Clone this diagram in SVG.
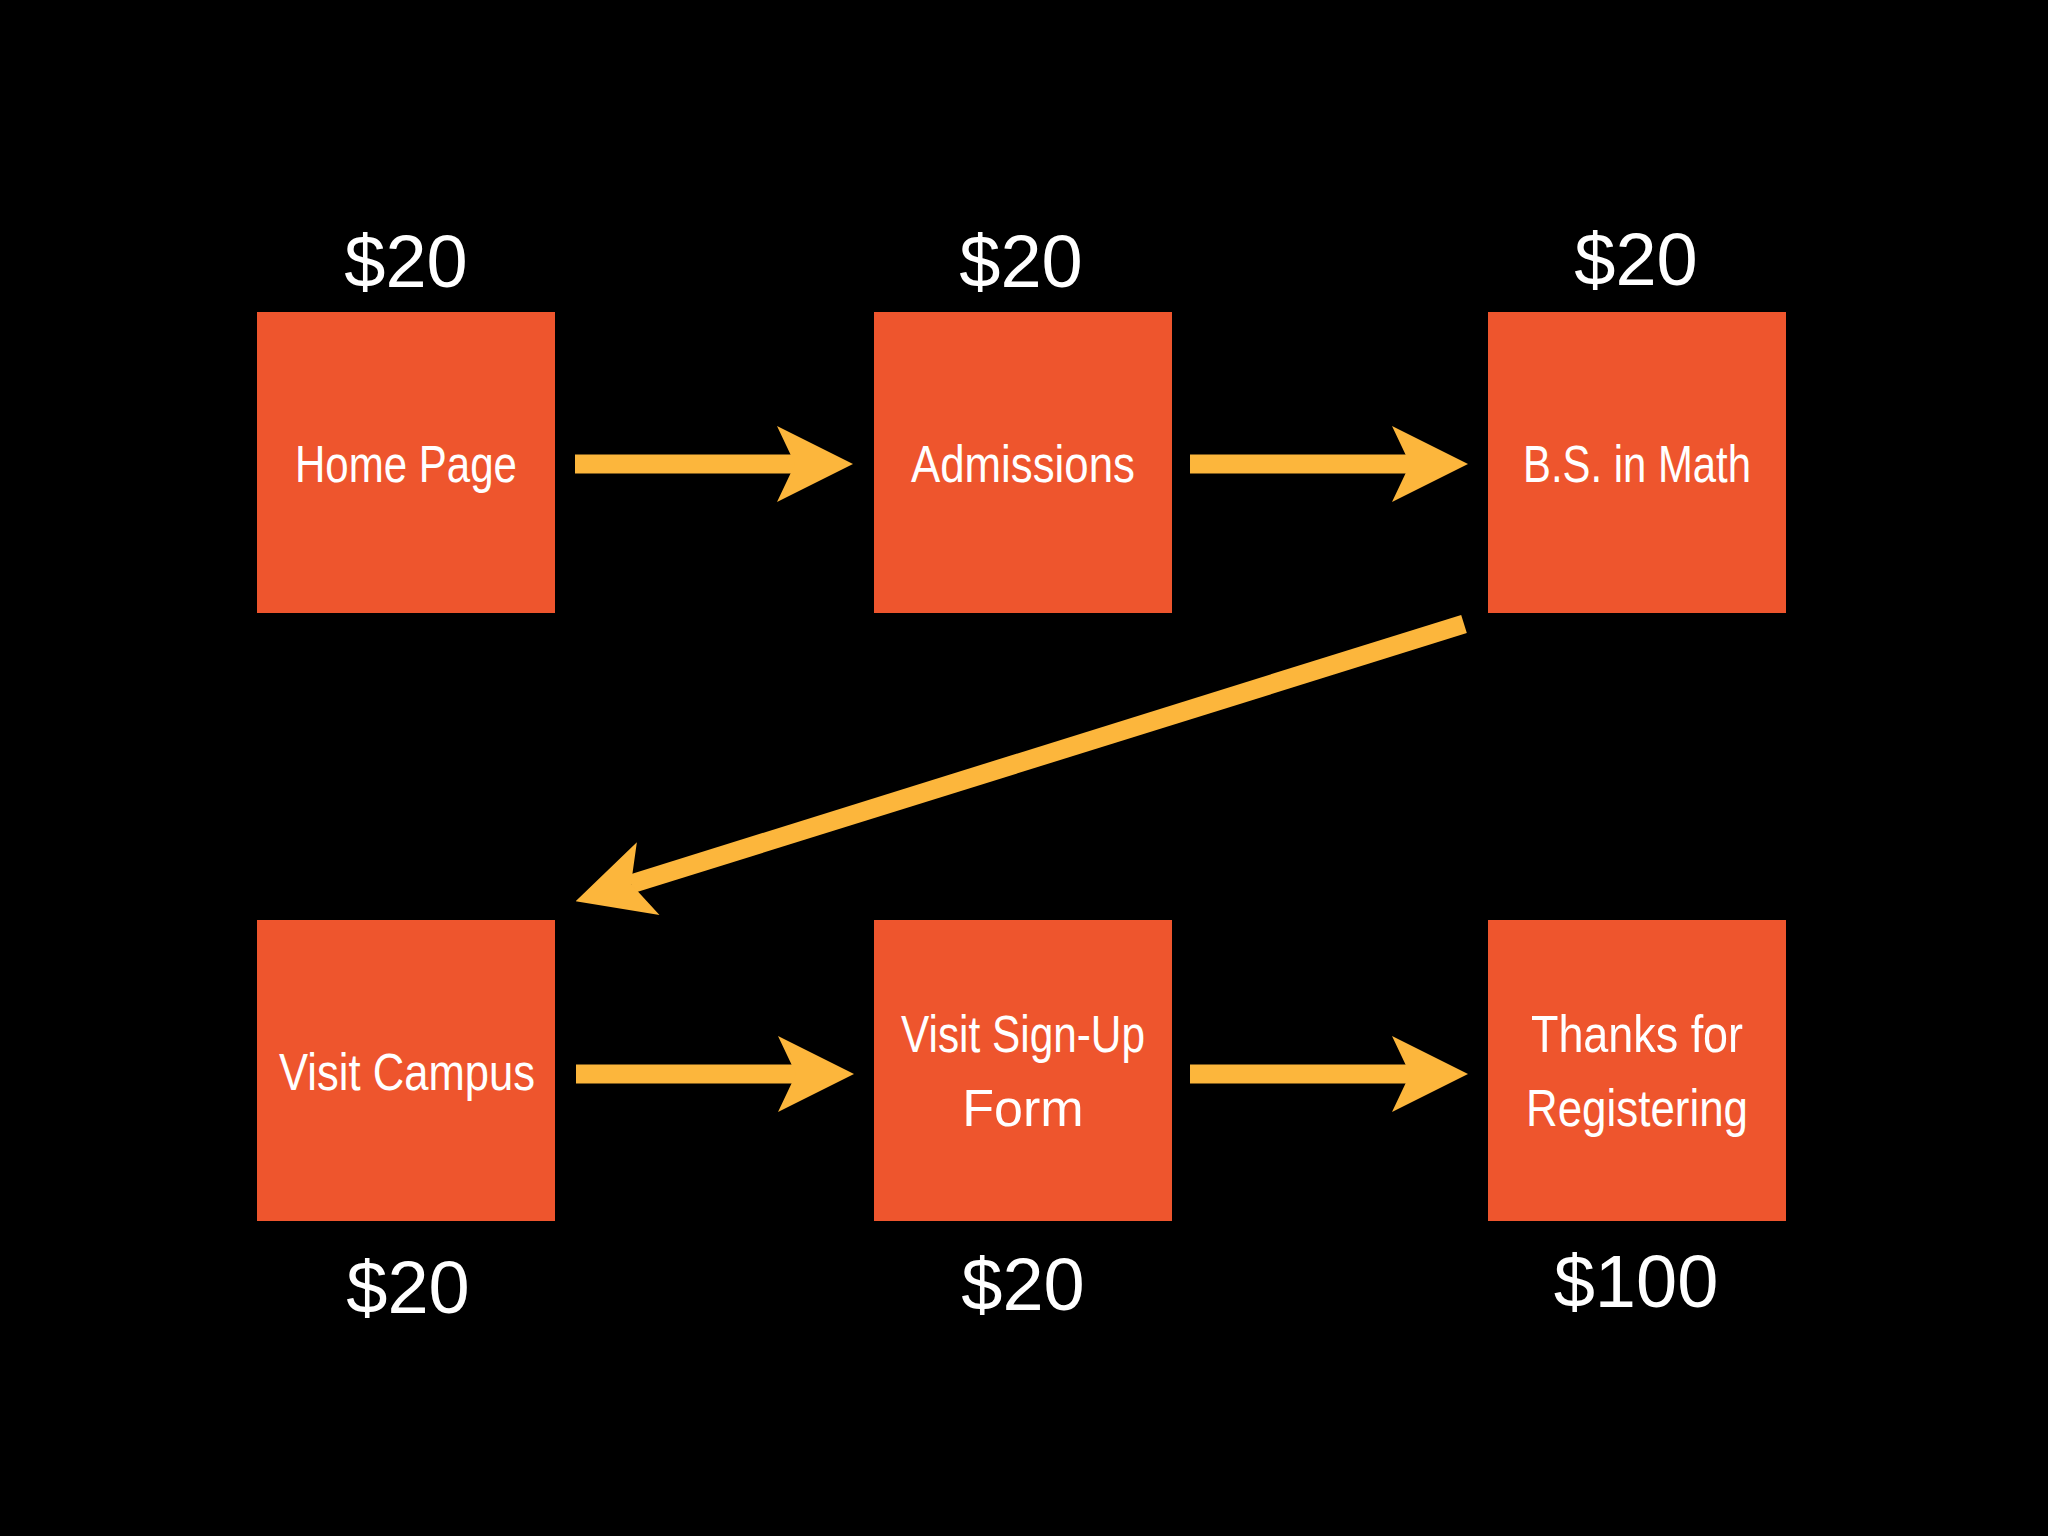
<svg xmlns="http://www.w3.org/2000/svg" width="2048" height="1536" viewBox="0 0 2048 1536">
<style>
.box{fill:#EE552D}
.lbl{font-family:"Liberation Sans",Arial,sans-serif;font-size:52px;fill:#fff;text-anchor:middle}
.price{font-family:"Liberation Sans",Arial,sans-serif;font-size:74px;fill:#fff;text-anchor:middle}
.conn{stroke:#FCB63C;stroke-width:19;fill:none}
</style>
<defs>
<marker id="ah" viewBox="-80 -40 80 80" refX="-58" refY="0" markerUnits="userSpaceOnUse" markerWidth="80" markerHeight="80" orient="auto">
<path d="M0,0 L-76,-38 L-58,0 L-76,38 Z" fill="#FCB63C"/>
</marker>
</defs>
<rect width="2048" height="1536" fill="#000"/>
<g id="n1"><rect class="box" x="257" y="312" width="298" height="301"/><text class="lbl" x="406" y="482" textLength="222" lengthAdjust="spacingAndGlyphs">Home Page</text><text class="price" x="406" y="287">$20</text></g>
<g id="n2"><rect class="box" x="874" y="312" width="298" height="301"/><text class="lbl" x="1023" y="482" textLength="224" lengthAdjust="spacingAndGlyphs">Admissions</text><text class="price" x="1021" y="287">$20</text></g>
<g id="n3"><rect class="box" x="1488" y="312" width="298" height="301"/><text class="lbl" x="1637" y="482" textLength="228" lengthAdjust="spacingAndGlyphs">B.S. in Math</text><text class="price" x="1636" y="285">$20</text></g>
<g id="n4"><rect class="box" x="257" y="920" width="298" height="301"/><text class="lbl" x="407" y="1090" textLength="256" lengthAdjust="spacingAndGlyphs">Visit Campus</text><text class="price" x="408" y="1313">$20</text></g>
<g id="n5"><rect class="box" x="874" y="920" width="298" height="301"/><text class="lbl" x="1023" y="1052" textLength="244" lengthAdjust="spacingAndGlyphs">Visit Sign-Up</text><text class="lbl" x="1023" y="1126">Form</text><text class="price" x="1023" y="1310">$20</text></g>
<g id="n6"><rect class="box" x="1488" y="920" width="298" height="301"/><text class="lbl" x="1637" y="1052" textLength="212" lengthAdjust="spacingAndGlyphs">Thanks for</text><text class="lbl" x="1637" y="1126" textLength="222" lengthAdjust="spacingAndGlyphs">Registering</text><text class="price" x="1636" y="1307">$100</text></g>
<g id="connectors">
<line class="conn" x1="575" y1="464" x2="795" y2="464" marker-end="url(#ah)"/>
<line class="conn" x1="1190" y1="464" x2="1410" y2="464" marker-end="url(#ah)"/>
<line class="conn" x1="1464" y1="624" x2="631" y2="884" marker-end="url(#ah)"/>
<line class="conn" x1="576" y1="1074" x2="796" y2="1074" marker-end="url(#ah)"/>
<line class="conn" x1="1190" y1="1074" x2="1410" y2="1074" marker-end="url(#ah)"/>
</g>
</svg>
